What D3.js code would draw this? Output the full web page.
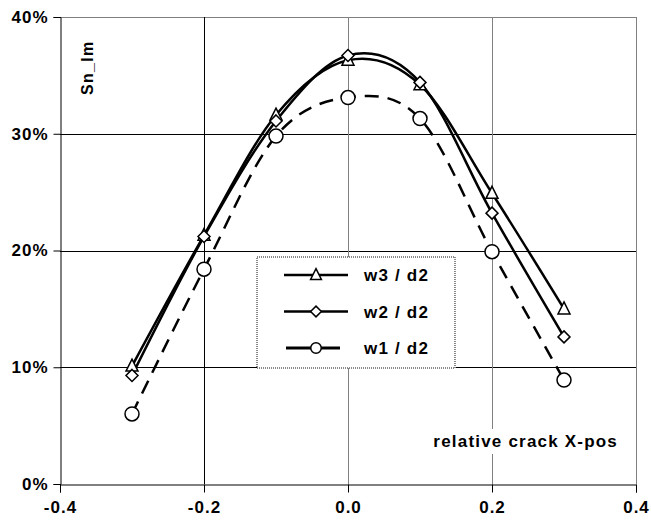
<!DOCTYPE html>
<html lang="en">
<head>
<meta charset="UTF-8" />
<title>Sn_lm vs relative crack X-pos</title>
<style>
  body { margin: 0; background: #fff; }
  text { font-family: "Liberation Sans", Arial, sans-serif; font-weight: bold; }
</style>
</head>
<body>
<script src="https://cdn.jsdelivr.net/npm/d3@7/dist/d3.min.js"></script>
<script>
// data
var xPos = [-0.3, -0.2, -0.1, 0.0, 0.1, 0.2, 0.3];
var w3d2 = [10.1, 21.3, 31.6, 36.3, 34.2, 24.9, 15.0];
var w2d2 = [9.3, 21.2, 31.1, 36.7, 34.4, 23.2, 12.6];
var w1d2 = [6.0, 18.4, 29.8, 33.1, 31.3, 19.9, 8.9];
var xTicks = [-0.4, -0.2, 0.0, 0.2, 0.4];
var yTicks = [0, 10, 20, 30, 40];

var series = [
  { name: "w3 / d2", values: w3d2, marker: "triangle", dash: null },
  { name: "w2 / d2", values: w2d2, marker: "diamond", dash: null },
  { name: "w1 / d2", values: w1d2, marker: "circle", dash: "14,9" }
];

var W = 651, H = 524;
var margin = { top: 17, right: 15, bottom: 40, left: 60 };

var svg = d3.select("body").append("svg")
  .attr("width", W)
  .attr("height", H);

var x = d3.scaleLinear().domain([-0.4, 0.4]).range([margin.left, W - margin.right]);
var y = d3.scaleLinear().domain([0, 40]).range([H - margin.bottom, margin.top]);

// grid
svg.append("g").selectAll("line")
  .data(yTicks.slice(1))
  .enter().append("line")
  .attr("x1", x(-0.4)).attr("x2", x(0.4))
  .attr("y1", function(d) { return Math.round(y(d)) + 0.5; })
  .attr("y2", function(d) { return Math.round(y(d)) + 0.5; })
  .attr("stroke", function(d) { return d == 40 ? "#808080" : "#000"; })
  .attr("stroke-width", 1);

svg.append("g").selectAll("line")
  .data(xTicks.slice(1))
  .enter().append("line")
  .attr("x1", function(d) { return Math.round(x(d)) + 0.5; })
  .attr("x2", function(d) { return Math.round(x(d)) + 0.5; })
  .attr("y1", y(40)).attr("y2", y(0))
  .attr("stroke", function(d) { return d == -0.2 ? "#000" : "#808080"; })
  .attr("stroke-width", 1);

// axes
var xAxis = d3.axisBottom(x).tickValues(xTicks).tickSize(8).tickPadding(8)
  .tickFormat(function(d) { return d3.format(".1f")(d).replace("−", "-"); });
var yAxis = d3.axisLeft(y).tickValues(yTicks).tickSize(7).tickPadding(5)
  .tickFormat(function(d) { return d + "%"; });

var gx = svg.append("g")
  .attr("transform", "translate(0," + (Math.round(y(0)) + 0.5) + ")")
  .call(xAxis);
var gy = svg.append("g")
  .attr("transform", "translate(" + (Math.round(x(-0.4)) + 0.5) + ",0)")
  .call(yAxis);

[gx, gy].forEach(function(g) {
  g.select(".domain").attr("stroke", "#000");
  g.selectAll(".tick line").attr("stroke", "#000");
  g.selectAll(".tick text")
    .attr("fill", "#000")
    .style("font-size", "17px")
    .style("font-family", "'Liberation Sans', Arial, sans-serif")
    .style("font-weight", "bold")
    .style("letter-spacing", "1px");
});

// axis titles
svg.append("text")
  .attr("transform", "translate(93,95) rotate(-90)")
  .attr("font-size", 16)
  .style("letter-spacing", "1.3px")
  .text("Sn_lm");

var bg = svg.append("g");
var xt = svg.append("text")
  .attr("x", 618).attr("y", 447)
  .attr("text-anchor", "end")
  .attr("font-size", 17)
  .style("letter-spacing", "1.2px")
  .text("relative crack X-pos");
var bb = xt.node().getBBox();
bg.append("rect")
  .attr("x", bb.x - 2).attr("y", bb.y - 3)
  .attr("width", bb.width + 4).attr("height", bb.height + 6)
  .attr("fill", "#fff");

// lines
var line = d3.line()
  .x(function(d, i) { return x(xPos[i]); })
  .y(function(d) { return y(d); })
  .curve(d3.curveCardinal.tension(0));

svg.append("g").selectAll("path")
  .data(series)
  .enter().append("path")
  .attr("d", function(s) { return line(s.values); })
  .attr("fill", "none")
  .attr("stroke", "#000")
  .attr("stroke-width", 2.5)
  .attr("stroke-dasharray", function(s) { return s.dash; });

// markers
function drawMarker(g, type, cx, cy, k) {
  if (type == "circle") {
    g.append("circle").attr("cx", cx).attr("cy", cy).attr("r", 7 * k)
      .attr("fill", "#fff").attr("stroke", "#000").attr("stroke-width", 1.5);
  } else if (type == "diamond") {
    var s = 6 * k;
    g.append("path")
      .attr("d", "M" + cx + "," + (cy - s) + "L" + (cx + s) + "," + cy + "L" + cx + "," + (cy + s) + "L" + (cx - s) + "," + cy + "Z")
      .attr("fill", "#fff").attr("stroke", "#000").attr("stroke-width", 1.5);
  } else {
    var t = 6 * k;
    g.append("path")
      .attr("d", "M" + cx + "," + (cy - 7 * k) + "L" + (cx + t) + "," + (cy + 5 * k) + "L" + (cx - t) + "," + (cy + 5 * k) + "Z")
      .attr("fill", "#fff").attr("stroke", "#000").attr("stroke-width", 1.5);
  }
}

var mg = svg.append("g");
series.forEach(function(s) {
  s.values.forEach(function(v, i) {
    drawMarker(mg, s.marker, x(xPos[i]), y(v), 1);
  });
});

// legend
var lg = svg.append("g");
lg.append("rect")
  .attr("x", 257).attr("y", 257)
  .attr("width", 198).attr("height", 111)
  .attr("fill", "#fff")
  .attr("stroke", "#888")
  .attr("stroke-width", 2)
  .attr("stroke-dasharray", "1,1");

series.forEach(function(s, i) {
  var ly = 275 + i * 36.5;
  lg.append("line")
    .attr("x1", s.dash ? 286 : 284).attr("x2", s.dash ? 340 : 348)
    .attr("y1", ly).attr("y2", ly)
    .attr("stroke", "#000")
    .attr("stroke-width", s.dash ? 3 : 2.5);
  drawMarker(lg, s.marker, 316, ly, s.marker == "circle" ? 0.75 : 0.9);
  lg.append("text")
    .attr("x", 364).attr("y", ly + 6)
    .attr("font-size", 17)
    .style("letter-spacing", "1.2px")
    .text(s.name);
});
</script>
</body>
</html>
